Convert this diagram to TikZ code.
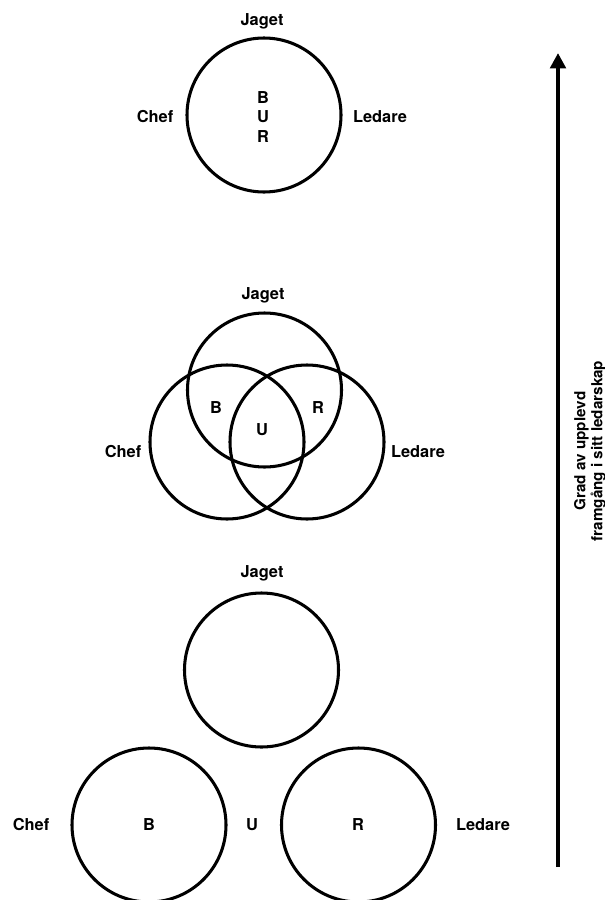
\documentclass[tikz,border=0pt]{standalone}
\usepackage{fontspec}
\setmainfont{TeX Gyre Heros}
\usetikzlibrary{arrows.meta}

\tikzset{
  ring/.style={line width=2.6pt},
  lbl/.style={font=\fontsize{14}{16}\selectfont\bfseries, inner sep=0pt},
  axis/.style={line width=3.5pt, -{Triangle[length=4.6mm, width=4.6mm]}},
}

\begin{document}
\begin{tikzpicture}[x=0.3mm,y=-0.3mm]
                \useasboundingbox (0,0) rectangle (605,900);
                % one circle
                \coordinate (A1) at (264,115);
                \draw[ring] (A1) circle[radius=77];
                \node[lbl] (jaget1) at (262,21) {Jaget};
                \node[lbl] (chef1) at (155,117) {Chef};
                \node[lbl] (ledare1) at (380,117) {Ledare};
                \node[lbl] (b1) at (263,98) {B};
                \node[lbl] (u1) at (263,117) {U};
                \node[lbl] (r1) at (263,137) {R};
                % overlapping circles
                \coordinate (A2) at (264.5,390);
                \coordinate (B2) at (227,442);
                \coordinate (C2) at (307,442);
                \draw[ring] (A2) circle[radius=77];
                \draw[ring] (B2) circle[radius=77];
                \draw[ring] (C2) circle[radius=77];
                \node[lbl] (jaget2) at (263,295) {Jaget};
                \node[lbl] (chef2) at (123,452) {Chef};
                \node[lbl] (ledare2) at (418,452) {Ledare};
                \node[lbl] (b2) at (216,408) {B};
                \node[lbl] (u2) at (262,430) {U};
                \node[lbl] (r2) at (318,408) {R};
                % separate circles
                \coordinate (A3) at (261.5,670);
                \coordinate (B3) at (149,825);
                \coordinate (C3) at (358.5,825);
                \draw[ring] (A3) circle[radius=77];
                \draw[ring] (B3) circle[radius=77];
                \draw[ring] (C3) circle[radius=77];
                \node[lbl] (jaget3) at (262,573) {Jaget};
                \node[lbl] (chef3) at (31,825) {Chef};
                \node[lbl] (ledare3) at (483,825) {Ledare};
                \node[lbl] (b3) at (149,825) {B};
                \node[lbl] (u3) at (252,825) {U};
                \node[lbl] (r3) at (358,825) {R};
                % axis
                \coordinate (bas) at (558,867);
                \coordinate (topp) at (558,53);
                \draw[axis] (bas) -- (topp);
                \node[lbl, font=\fontsize{13}{14.5}\selectfont\bfseries, rotate=90, align=center] (grad) at (590,451) {Grad av upplevd\\framgång i sitt ledarskap};
            \end{tikzpicture}
\end{document}
